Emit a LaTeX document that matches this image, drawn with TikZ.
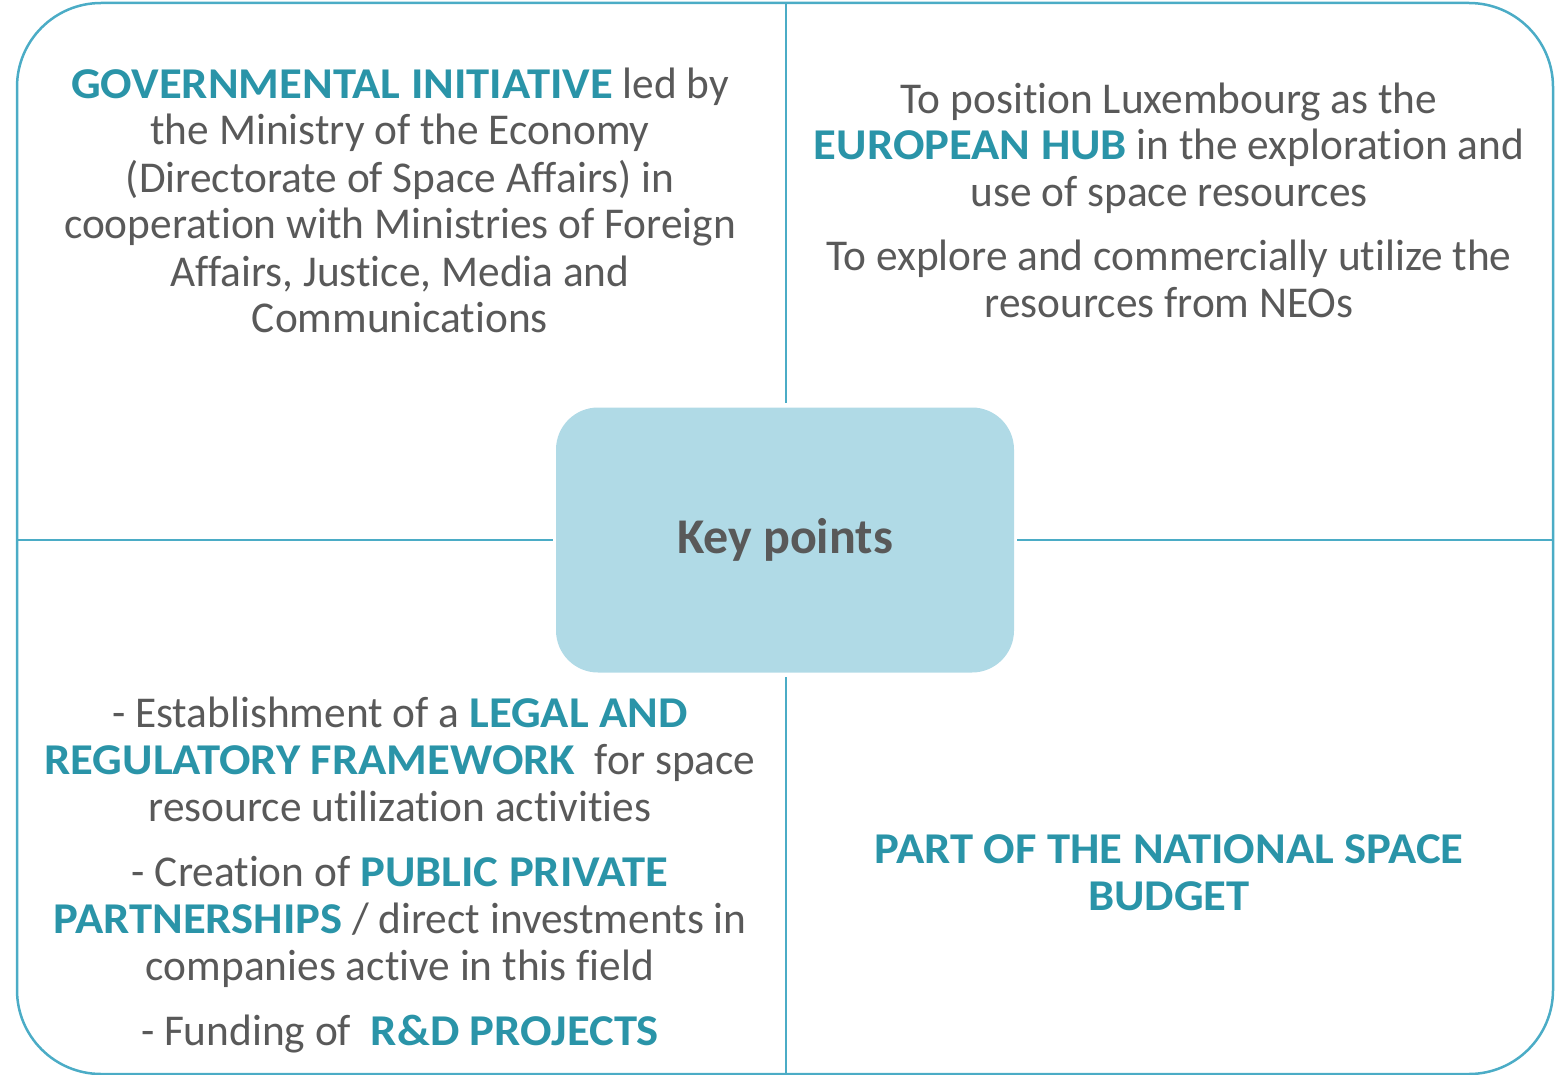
\documentclass[tikz,border=0pt]{standalone}
\usepackage{fontspec}
\setmainfont{Carlito}[FakeStretch=0.985,Ligatures={NoCommon},BoldFeatures={FakeStretch=1.06}]
\newfontfamily\keyfont{Carlito}
\usepackage{tikz}
\definecolor{frameblue}{HTML}{4BACC6}
\definecolor{hubteal}{HTML}{2A94A8}
\definecolor{bodygrey}{HTML}{595959}
\definecolor{keyfill}{HTML}{B0DAE6}
\newcommand{\kw}[1]{{\bfseries\color{hubteal}#1}}

\begin{document}
\begin{tikzpicture}[x=1pt,y=-1pt,
  frame/.style={draw=frameblue,line width=2.5pt},
  keybox/.style={fill=keyfill,rounded corners=42pt,minimum width=458pt,minimum height=265pt,inner sep=0pt},
  quarter/.style={align=center,inner sep=0pt,anchor=base,text=bodygrey,font=\fontsize{44}{47}\selectfont}]
\useasboundingbox (0,0) rectangle (1558,1075);
\path[frame,rounded corners=84pt] (17,3) rectangle (1553,1074);

\node[keybox] (keybox) at (785,540) {\keyfont\bfseries\fontsize{50}{52}\selectfont\color{bodygrey}Key points};

\coordinate (topmid) at (786,3);
\coordinate (botmid) at (786,1075);
\coordinate (leftmid) at (17,540);
\coordinate (rightmid) at (1553,540);
\draw[frame,shorten >=4pt] (topmid) -- (keybox.north -| topmid);
\draw[frame,shorten >=4pt] (botmid) -- (keybox.south -| botmid);
\draw[frame,shorten >=3pt] (leftmid) -- (keybox.west);
\draw[frame,shorten >=3pt] (rightmid) -- (keybox.east);

% anchored at the baseline of the last line
\node[quarter] (govern) at (400,333) {\kw{GOVERNMENTAL INITIATIVE} led by\\
  the Ministry of the Economy\\
  (Directorate of Space Affairs) in\\
  cooperation with Ministries of Foreign\\
  Affairs, Justice, Media and\\
  Communications};
\node[quarter] (goals) at (1169,318) {To position Luxembourg as the\\
  \kw{EUROPEAN HUB} in the exploration and\\
  use of space resources\\[17pt]
  To explore and commercially utilize the\\
  resources from NEOs};
\node[quarter] (measures) at (400,1045) {- Establishment of a \kw{LEGAL AND}\\
  \kw{REGULATORY FRAMEWORK}\ \ for space\\
  resource utilization activities\\[18pt]
  - Creation of \kw{PUBLIC PRIVATE}\\
  \kw{PARTNERSHIPS} / direct investments in\\
  companies active in this field\\[18pt]
  - Funding of\ \ \kw{R\&D PROJECTS}};
\node[quarter] (budget) at (1169,910) {\kw{PART OF THE NATIONAL SPACE}\\
  \kw{BUDGET}};
\end{tikzpicture}
\end{document}
